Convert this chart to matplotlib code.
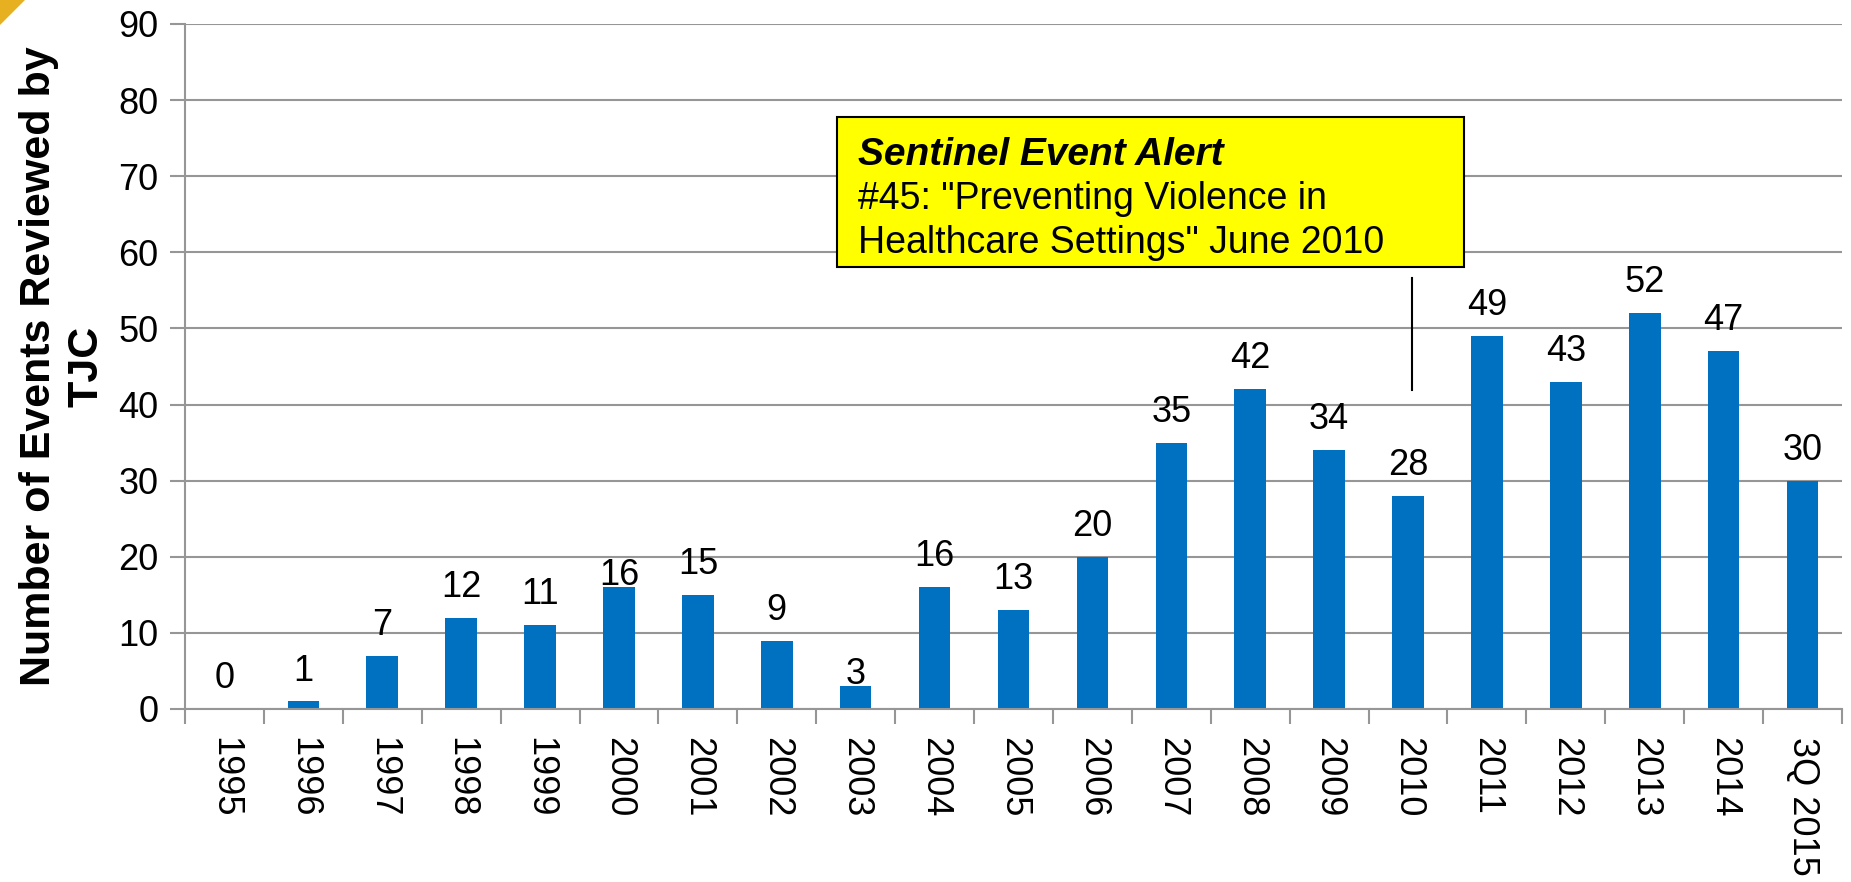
import numpy as np
import matplotlib as mpl
mpl.use('Agg')
import matplotlib.pyplot as plt
from matplotlib.patches import Polygon

plt.rcParams['font.family'] = ['Liberation Sans', 'DejaVu Sans']

# data
years = ['1995', '1996', '1997', '1998', '1999', '2000', '2001', '2002', '2003',
         '2004', '2005', '2006', '2007', '2008', '2009', '2010', '2011', '2012',
         '2013', '2014', '3Q 2015']
events = [0, 1, 7, 12, 11, 16, 15, 9, 3, 16, 13, 20, 35, 42, 34, 28, 49, 43, 52, 47, 30]
y_ticks = [0, 10, 20, 30, 40, 50, 60, 70, 80, 90]

# labels that sit right on the bar top in the original
low_labels = ['2000', '2003']

W, H = 1851, 882
fig = plt.figure(figsize=(W / 100, H / 100), dpi=100)
ax = fig.add_axes([185 / W, 1 - 709 / H, (1842 - 185) / W, (709 - 24) / H])

x = np.arange(len(years))
bar_color = '#0070C0'
grid_color = '#969696'

ax.set_axisbelow(True)
ax.yaxis.grid(True, color=grid_color, linewidth=1.5)
bars = ax.bar(x, events, width=0.4, color=bar_color, zorder=2)

for xi, yr, v in zip(x, years, events):
    off = 1.5 if yr in low_labels else 15
    ax.annotate(str(v), (xi, v), xytext=(0, off), textcoords='offset points',
                ha='center', va='baseline', fontsize=26, zorder=3)

ax.set_xlim(-0.5, len(years) - 0.5)
ax.set_ylim(0, 90)
ax.set_yticks(y_ticks)
ax.set_xticks(x)
ax.set_xticklabels(years, rotation=270, fontsize=26, va='top', ha='center')
ax.set_xticks(np.arange(len(years) + 1) - 0.5, minor=True)
ax.tick_params(axis='x', which='major', length=0, pad=20)
ax.tick_params(axis='x', which='minor', length=11, width=1.5, color=grid_color)
ax.tick_params(axis='y', length=11, width=1.5, color=grid_color, labelsize=26, pad=8)

for s in ['top', 'right']:
    ax.spines[s].set_visible(False)
for s in ['left', 'bottom']:
    ax.spines[s].set_color(grid_color)
    ax.spines[s].set_linewidth(1.5)

# y axis title placed by hand
fig.text(63 / W, 1 - 366 / H, 'Number of Events Reviewed by\nTJC', fontsize=31,
         fontweight='bold', rotation=90, ha='center', va='center',
         multialignment='center', linespacing=1.25)

# callout box and pointer line
ax.plot([15.05, 15.05], [41.9, 56.6], color='black', linewidth=1.5, zorder=4)
bx0, bx1, by0, by1 = 7.76, 15.71, 58.1, 77.8
ax.add_patch(plt.Rectangle((bx0, by0), bx1 - bx0, by1 - by0, facecolor='#FFFF00',
                           edgecolor='black', linewidth=1.5, zorder=5, clip_on=False))
ax.text(bx0 + 0.27, 71.5, 'Sentinel Event Alert', fontsize=28, fontweight='bold',
        fontstyle='italic', va='baseline', ha='left', zorder=6)
ax.text(bx0 + 0.27, 65.7, '#45: "Preventing Violence in', fontsize=27,
        va='baseline', ha='left', zorder=6)
ax.text(bx0 + 0.27, 59.9, 'Healthcare Settings" June 2010', fontsize=27,
        va='baseline', ha='left', zorder=6)

# gold corner triangle
fig.patches.append(Polygon([[0, 1], [25 / W, 1], [0, 1 - 25 / H]], closed=True,
                           transform=fig.transFigure, facecolor='#E6B020',
                           edgecolor='none'))

fig.savefig('out.png', dpi=100)
